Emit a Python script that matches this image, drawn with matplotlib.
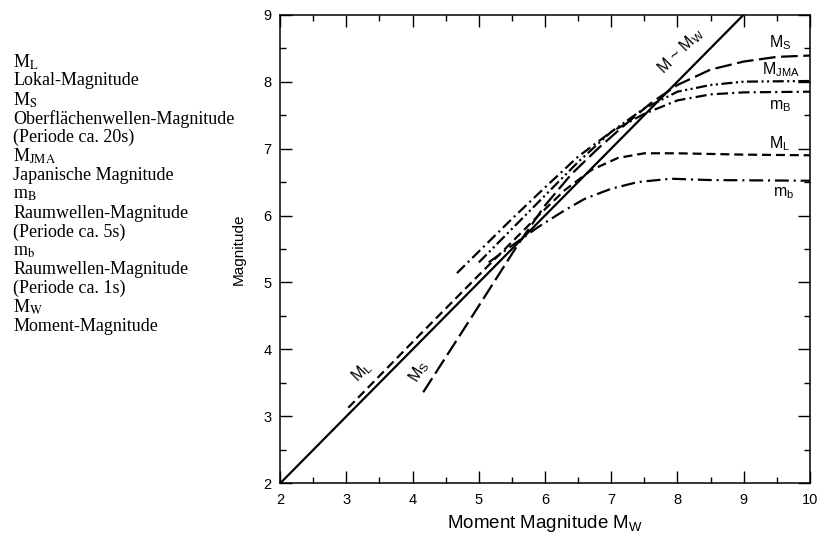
import matplotlib
matplotlib.use("Agg")
import matplotlib.pyplot as plt

plt.rcParams['font.family'] = ['Liberation Sans', 'DejaVu Sans']
plt.rcParams['mathtext.fontset'] = 'custom'
plt.rcParams['mathtext.rm'] = 'Liberation Sans'
plt.rcParams['mathtext.it'] = 'Liberation Sans:italic'
plt.rcParams['lines.scale_dashes'] = False

# curves (Mw, M)
mw_x = [2, 9]
mw_y = [2, 9]

ml_x = [3.03, 4.0, 5.0, 5.9, 6.3, 6.7, 7.1, 7.5, 8.0, 9.0, 10.0]
ml_y = [3.13, 4.11, 5.11, 6.0, 6.38, 6.68, 6.86, 6.93, 6.93, 6.91, 6.90]

ms_x = [4.16, 5.0, 5.6, 6.0, 6.4, 6.8, 7.2, 7.6, 8.0, 8.5, 9.0, 9.5, 10.0]
ms_y = [3.36, 4.65, 5.58, 6.15, 6.62, 7.00, 7.35, 7.68, 7.95, 8.18, 8.30, 8.37, 8.39]

mjma_x = [5.0, 5.5, 6.0, 6.5, 7.0, 7.5, 8.0, 8.5, 9.0, 10.0]
mjma_y = [5.30, 5.80, 6.30, 6.80, 7.25, 7.60, 7.85, 7.95, 8.00, 8.01]

mB_x = [4.67, 5.5, 6.0, 6.5, 7.0, 7.5, 8.0, 8.5, 9.0, 10.0]
mB_y = [5.14, 5.95, 6.42, 6.88, 7.25, 7.52, 7.72, 7.81, 7.84, 7.85]

mb_x = [5.15, 5.5, 5.9, 6.3, 6.6, 7.0, 7.4, 7.9, 8.5, 10.0]
mb_y = [5.30, 5.55, 5.83, 6.08, 6.25, 6.40, 6.50, 6.55, 6.53, 6.52]

legend_lines = [
    r"M$_\mathrm{L}$", "Lokal-Magnitude",
    r"M$_\mathrm{S}$", "Oberflächenwellen-Magnitude", "(Periode ca. 20s)",
    r"M$_\mathrm{JMA}$", "Japanische Magnitude",
    r"m$_\mathrm{B}$", "Raumwellen-Magnitude", "(Periode ca. 5s)",
    r"m$_\mathrm{b}$", "Raumwellen-Magnitude", "(Periode ca. 1s)",
    r"M$_\mathrm{W}$", "Moment-Magnitude",
]

fig = plt.figure(figsize=(8.18, 5.35), dpi=100)
ax = fig.add_axes([0.3425, 0.0966, 0.6475, 0.8759])

lw = 1.6
ax.plot(mw_x, mw_y, color='black', lw=lw, solid_capstyle='butt')
ax.plot(ml_x, ml_y, color='black', lw=lw, dashes=[6.5, 3.5])
ax.plot(ms_x, ms_y, color='black', lw=lw, dashes=[12, 4])
ax.plot(mjma_x, mjma_y, color='black', lw=lw, dashes=[8, 2.5, 1.5, 2.5, 1.5, 2.5])
ax.plot(mB_x, mB_y, color='black', lw=lw, dashes=[8, 3, 1.5, 3])
ax.plot(mb_x, mb_y, color='black', lw=lw, dashes=[10, 3.5, 1.5, 3.5])

ax.set_xlim(2, 10)
ax.set_ylim(2, 9)
ax.set_xticks(range(2, 11))
ax.set_yticks(range(2, 10))
ax.set_xticks([x + 0.5 for x in range(2, 10)], minor=True)
ax.set_yticks([y + 0.5 for y in range(2, 9)], minor=True)
ax.tick_params(which='both', direction='in', top=True, right=True,
               width=1.0, labelsize=10.5)
ax.tick_params(axis='x', pad=7)
ax.tick_params(axis='y', pad=6)
ax.tick_params(which='major', length=8.5)
ax.tick_params(which='minor', length=4.5)
for s in ax.spines.values():
    s.set_linewidth(1.1)

ax.set_xlabel(r"Moment Magnitude M$_\mathrm{W}$", fontsize=13.5, labelpad=4)
ax.set_ylabel("Magnitude", fontsize=11, labelpad=13)

# curve labels
lab = dict(fontsize=11.5, color='black', ha='center', va='center')
ax.text(9.55, 8.58, r"M$_\mathrm{S}$", **lab)
ax.text(9.57, 8.18, r"M$_\mathrm{JMA}$", **lab)
ax.text(9.55, 7.63, r"m$_\mathrm{B}$", **lab)
ax.text(9.55, 7.07, r"M$_\mathrm{L}$", **lab)
ax.text(9.6, 6.34, r"m$_\mathrm{b}$", **lab)
ax.text(3.23, 3.67, r"M$_\mathrm{L}$", rotation=45, **lab)
ax.text(4.1, 3.67, r"M$_\mathrm{S}$", rotation=58, **lab)
ax.text(8.05, 8.45, r"M ~ M$_\mathrm{W}$", rotation=45, **lab)

# text block on the left
y0 = 1 - 62 / 535
step = 18.9 / 535
for i, t in enumerate(legend_lines):
    fig.text(0.016, y0 - i * step, t, fontsize=13, family='Liberation Serif',
             math_fontfamily='stix', ha='left', va='center')

fig.savefig("out.png", dpi=100)
